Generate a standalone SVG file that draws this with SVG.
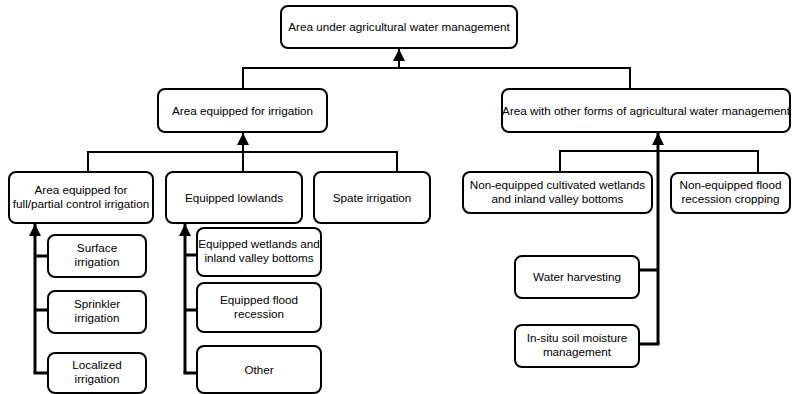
<svg xmlns="http://www.w3.org/2000/svg" width="793" height="394" viewBox="0 0 793 394">
<style>
.box{fill:#fff;stroke:#000;stroke-width:2}
.t{font-family:"Liberation Sans",Arial,sans-serif;font-size:11.7px;fill:#000;text-anchor:middle}
.c{fill:none;stroke:#000;stroke-width:2}
.k{fill:none;stroke:#000;stroke-width:3}
</style>
<defs>
<marker id="ah" markerUnits="userSpaceOnUse" markerWidth="12" markerHeight="12" refX="12" refY="6" orient="auto" viewBox="0 0 12 12">
<path d="M0,0 L12,6 L0,12 z" fill="#000"/>
</marker>
</defs>
<rect width="793" height="394" fill="#fff"/>
<g id="connectors">
<path class="c" d="M243,89 V68 H630 V89"/>
<path class="c" d="M399,68 V49" marker-end="url(#ah)"/>
<path class="c" d="M88,172 V152 H397 V172 M243,152 V172"/>
<path class="c" d="M243,152 V133" marker-end="url(#ah)"/>
<path class="c" d="M560,172 V151 H758 V173"/>
<path class="k" d="M658,344 V133" marker-end="url(#ah)"/>
<path class="k" d="M639,270 H658 M639,344 H659.5"/>
<path class="k" d="M35,373 V224" marker-end="url(#ah)"/>
<path class="k" d="M34,256 H48 M34,310 H48 M33.5,373 H48"/>
<path class="k" d="M185,373 V224" marker-end="url(#ah)"/>
<path class="k" d="M184,255 H197 M184,310 H197 M183.5,373 H197"/>
</g>
<g id="n-top"><rect class="box" x="281" y="6" width="236" height="42" rx="7"/><text class="t" x="399" y="31">Area under agricultural water management</text></g>
<g id="n-irr"><rect class="box" x="158" y="89" width="169" height="43" rx="7"/><text class="t" x="242.5" y="114.5">Area equipped for irrigation</text></g>
<g id="n-other"><rect class="box" x="502" y="89" width="288" height="43" rx="7"/><text class="t" x="646" y="114.5">Area with other forms of agricultural water management</text></g>
<g id="n-full"><rect class="box" x="9" y="172" width="144" height="51" rx="7"/><text class="t" x="81" y="193.5">Area equipped for</text><text class="t" x="81" y="207.5">full/partial control irrigation</text></g>
<g id="n-lowlands"><rect class="box" x="166" y="172" width="136" height="51" rx="7"/><text class="t" x="234" y="201.5">Equipped lowlands</text></g>
<g id="n-spate"><rect class="box" x="314" y="172" width="116" height="51" rx="7"/><text class="t" x="372" y="201.5">Spate irrigation</text></g>
<g id="n-noneqwet"><rect class="box" x="463" y="172" width="189" height="41" rx="7"/><text class="t" x="557.5" y="188.5">Non-equipped cultivated wetlands</text><text class="t" x="557.5" y="202.5">and inland valley bottoms</text></g>
<g id="n-noneqflood"><rect class="box" x="671" y="173" width="119" height="40" rx="7"/><text class="t" x="730.5" y="189">Non-equipped flood</text><text class="t" x="730.5" y="203">recession cropping</text></g>
<g id="n-surface"><rect class="box" x="48" y="235" width="98" height="42" rx="7"/><text class="t" x="97" y="252">Surface</text><text class="t" x="97" y="266">irrigation</text></g>
<g id="n-sprinkler"><rect class="box" x="48" y="291" width="98" height="42" rx="7"/><text class="t" x="97" y="308">Sprinkler</text><text class="t" x="97" y="322">irrigation</text></g>
<g id="n-localized"><rect class="box" x="48" y="353" width="98" height="40" rx="7"/><text class="t" x="97" y="369">Localized</text><text class="t" x="97" y="383">irrigation</text></g>
<g id="n-wetlands"><rect class="box" x="197" y="228" width="124" height="48" rx="7"/><text class="t" x="259" y="248">Equipped wetlands and</text><text class="t" x="259" y="262">inland valley bottoms</text></g>
<g id="n-flood"><rect class="box" x="197" y="283" width="124" height="49" rx="7"/><text class="t" x="259" y="303.5">Equipped flood</text><text class="t" x="259" y="317.5">recession</text></g>
<g id="n-other2"><rect class="box" x="197" y="346" width="124" height="47" rx="7"/><text class="t" x="259" y="373.5">Other</text></g>
<g id="n-water"><rect class="box" x="515" y="256" width="124" height="42" rx="7"/><text class="t" x="577" y="281">Water harvesting</text></g>
<g id="n-insitu"><rect class="box" x="515" y="325" width="124" height="42" rx="7"/><text class="t" x="577" y="342">In-situ soil moisture</text><text class="t" x="577" y="356">management</text></g>
</svg>
